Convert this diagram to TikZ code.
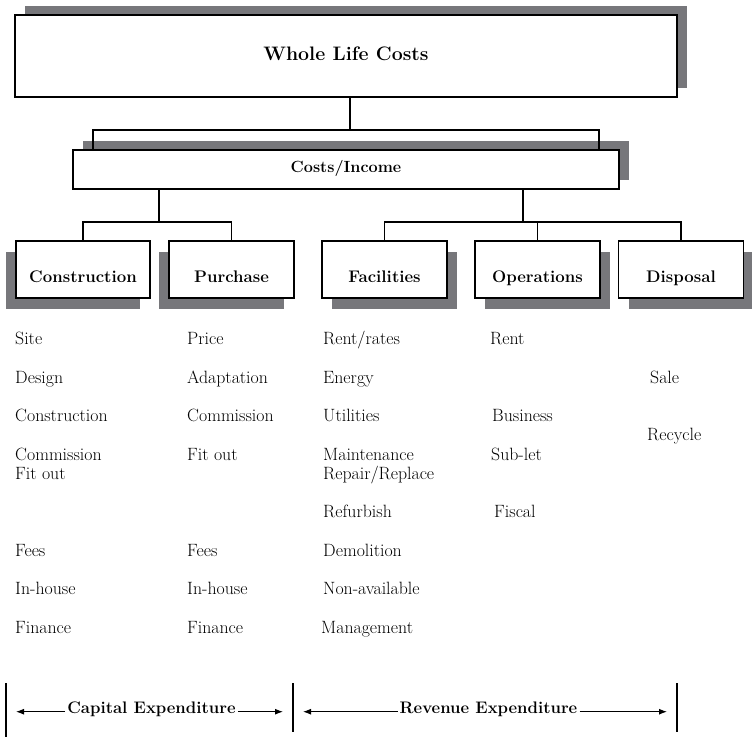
\documentclass[tikz,border=0pt]{standalone}
\usepackage{tikz}
\usetikzlibrary{calc,shadows,arrows.meta}

\definecolor{shadowgray}{RGB}{119,119,123}

\begin{document}
\begin{tikzpicture}[x=1pt,y=-1pt,
    box/.style={draw,line width=1.6pt,fill=white,inner sep=0pt,align=center},
    shadowup/.style={drop shadow={shadow xshift=10pt,shadow yshift=9pt,fill=shadowgray,opacity=1}},
    shadowdl/.style={drop shadow={shadow xshift=-10pt,shadow yshift=-10.5pt,fill=shadowgray,opacity=1}},
    shadowdr/.style={drop shadow={shadow xshift=10pt,shadow yshift=-10.5pt,fill=shadowgray,opacity=1}},
    group/.style={box,minimum width=125pt,minimum height=57pt,text height=25pt,text depth=0pt,
      font=\fontsize{16.8}{19}\selectfont\bfseries},
    link/.style={line width=1.3pt},
    item/.style={anchor=base west,inner sep=0pt,font=\fontsize{17.8}{20}\selectfont},
    bar/.style={line width=1.3pt},
    span/.style={line width=1pt,-{Latex[length=8pt,width=6pt]},shorten >=10pt},
    exp/.style={anchor=base,inner xsep=2pt,inner ysep=0pt,font=\fontsize{16.7}{19}\selectfont\bfseries}]

    \useasboundingbox (0,0) rectangle (752,737);

    % top of the tree
    \node[box,shadowup,minimum width=662pt,minimum height=82pt,text height=14pt,text depth=6pt,
      font=\fontsize{19.5}{22}\selectfont\bfseries] (whole) at (346,56) {Whole Life Costs};
    \node[box,shadowup,minimum width=546pt,minimum height=39pt,text height=11pt,text depth=6pt,
      font=\fontsize{16.2}{19}\selectfont\bfseries] (cost) at (346,169.5) {Costs/Income};

    % the five groups
    \node[group,shadowdl,minimum width=134pt] (con) at (83,269.5) {Construction};
    \node[group,shadowdl] (pur) at (231.5,269.5) {Purchase};
    \node[group,shadowdr] (fac) at (384.5,269.5) {Facilities};
    \node[group,shadowdr] (ope) at (537.5,269.5) {Operations};
    \node[group,shadowdr] (dis) at (681,269.5) {Disposal};

    % connectors
    \coordinate (wj) at (350,130);
    \coordinate (cl) at (93,130);
    \coordinate (cr) at (599,130);
    \draw[link] (whole.south -| wj) -- (wj);
    \draw[link] (cost.north -| cl) -- (cl) -- (cr) -- (cost.north -| cr);
    \coordinate (capj) at (159,222);
    \coordinate (revj) at (523,222);
    \draw[link] (cost.south -| capj) -- (capj);
    \draw[link] (cost.south -| revj) -- (revj);
    \draw[link] (con.north) |- (pur.north |- capj) -- (pur.north);
    \draw[link] (fac.north) |- (dis.north |- revj) -- (dis.north);
    \draw[link] (ope.north) -- (ope.north |- revj);

    % cost items under each group
    \foreach \ty/\tx [count=\i] in {344/Site,383/Design,421/Construction,460/Commission,
        479/Fit out,556/Fees,594/In-house,633/Finance}
      \node[item] (con-\i) at (15,\ty) {\tx};
    \foreach \ty/\tx [count=\i] in {344/Price,383/Adaptation,421/Commission,460/Fit out,
        556/Fees,594/In-house,633/Finance}
      \node[item] (pur-\i) at (187,\ty) {\tx};
    \foreach \ty/\tx [count=\i] in {344/{Rent/rates},383/Energy,421/Utilities,460/Maintenance,
        479/{Repair/Replace},517/Refurbish,556/Demolition,594/Non-available}
      \node[item] (fac-\i) at (323,\ty) {\tx};
    \node[item] (fac-9) at (321,633) {Management};
    \node[item] (ope-1) at (490,344) {Rent};
    \node[item] (ope-2) at (492,421) {Business};
    \node[item] (ope-3) at (491,460) {Sub-let};
    \node[item] (ope-4) at (494,517) {Fiscal};
    \node[item] (dis-1) at (650,383) {Sale};
    \node[item] (dis-2) at (647,440) {Recycle};

    % expenditure spans
    \coordinate (bar1t) at (6,683);   \coordinate (bar1b) at (6,737);
    \coordinate (bar2t) at (293,683); \coordinate (bar2b) at (293,732);
    \coordinate (bar3t) at (677,683); \coordinate (bar3b) at (677,732);
    \coordinate (bar1m) at (6,711.7);
    \coordinate (bar2m) at (293,711.7);
    \coordinate (bar3m) at (677,711.7);
    \draw[bar] (bar1t) -- (bar1b);
    \draw[bar] (bar2t) -- (bar2b);
    \draw[bar] (bar3t) -- (bar3b);
    \node[exp] (capex) at (151.5,713) {Capital Expenditure};
    \node[exp] (revex) at (488.5,713) {Revenue Expenditure};
    \draw[span] (capex.west |- bar1m) -- (bar1m);
    \draw[span] (capex.east |- bar2m) -- (bar2m);
    \draw[span] (revex.west |- bar2m) -- (bar2m);
    \draw[span] (revex.east |- bar3m) -- (bar3m);
\end{tikzpicture}
\end{document}
